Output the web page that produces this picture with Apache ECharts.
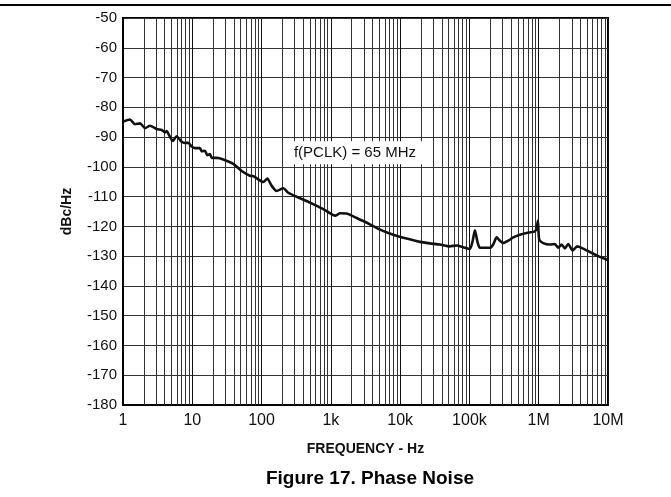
<!DOCTYPE html>
<html>
<head>
<meta charset="utf-8">
<title>Phase Noise</title>
<script src="https://cdn.jsdelivr.net/npm/echarts@6/dist/echarts.min.js"></script>
<style>
  html, body { margin: 0; padding: 0; background: #fff; }
  #main { width: 671px; height: 497px; }
</style>
</head>
<body>
<div id="main"></div>
<script type="text/javascript">
// frequency (Hz) and phase noise (dBc/Hz)
var freqHz = [1, 1.26, 1.49, 1.76, 2.08, 2.45, 3.06, 3.62, 4.04, 4.27,
  4.66, 5.21, 5.95, 7.03, 7.85, 8.76, 9.8, 10.9, 12.9, 13.7,
  15.2, 16.5, 18, 19.1, 22.5, 28, 39, 51.6, 68, 76,
  106, 121, 140, 165, 206, 243, 339, 500, 778, 1150,
  1360, 1690, 2360, 3660, 5120, 7950, 12400, 19300, 26900, 37500,
  52300, 65300, 81400, 101600, 111000, 120000, 130000, 142000, 198000, 220000,
  247000, 275000, 307000, 363000, 429000, 535000, 669000, 881000, 933000, 973000,
  1016000, 1161000, 1451000, 1713000, 1911000, 2139000, 2388000, 2666000, 3084000, 3594000,
  4160000, 5483000, 7228000, 9546000, 10000000];
var noiseDb = [-84.8, -84.1, -85.7, -85.4, -87, -86.2, -87.3, -87.6, -88.4, -88,
  -89.5, -91.3, -89.7, -91.6, -92, -91.9, -93.2, -93.7, -93.7, -94.8,
  -94.6, -96.1, -95.7, -97, -97, -97.5, -99, -101.4, -103, -103.1,
  -105.1, -103.9, -106.4, -108.1, -107.2, -108.7, -110.3, -112, -114.2, -116.4,
  -115.6, -115.7, -117.2, -119.3, -121.1, -122.8, -124.1, -125.2, -125.7, -126.1,
  -126.7, -126.4, -127, -127.6, -125, -121.3, -125, -127.2, -127.2, -126.1,
  -123.7, -124.8, -125.6, -124.8, -123.7, -122.8, -122.2, -121.7, -120.6, -118.1,
  -124.4, -125.6, -126.1, -125.9, -127.2, -126.1, -127.4, -125.9, -128.1, -126.7,
  -127.2, -128.6, -130, -131.1, -131.2];

var xTickLabels = {1: '1', 10: '10', 100: '100', 1000: '1k', 10000: '10k',
  100000: '100k', 1000000: '1M', 10000000: '10M'};

// minor log grid lines 2..9 in every decade
var minorLines = [];
for (var d = 1; d < 1e7; d *= 10) {
  for (var m = 2; m <= 9; m++) minorLines.push({ xAxis: m * d });
}

var chart = echarts.init(document.getElementById('main'));
var option = {
  animation: false,
  textStyle: { fontFamily: 'Liberation Sans, Arial, sans-serif' },
  graphic: [{
    type: 'line', shape: { x1: 0, y1: 5, x2: 671, y2: 5 },
    style: { stroke: '#000', lineWidth: 2 }
  }],
  title: {
    text: 'Figure 17. Phase Noise',
    left: 365, top: 464, textAlign: 'center',
    textStyle: { fontSize: 19, fontWeight: 'bold', color: '#000' }
  },
  grid: {
    left: 123, right: 63, top: 18, bottom: 92,
    show: true, borderColor: '#000', borderWidth: 2
  },
  xAxis: {
    type: 'log', logBase: 10, min: 1, max: 10000000,
    name: 'FREQUENCY - Hz', nameLocation: 'middle', nameGap: 37,
    nameTextStyle: { fontSize: 14, fontWeight: 'bold', color: '#111' },
    axisLine: { lineStyle: { color: '#000', width: 2 } },
    axisTick: { show: false },
    axisLabel: {
      fontSize: 16, color: '#111', margin: 8,
      formatter: function (v) { return xTickLabels[v] || ''; }
    },
    splitLine: { show: true, lineStyle: { color: '#111', width: 1 } }
  },
  yAxis: {
    type: 'value', min: -180, max: -50, interval: 10,
    name: 'dBc/Hz', nameLocation: 'middle', nameGap: 49, nameRotate: 90,
    nameTextStyle: { fontSize: 14, fontWeight: 'bold', color: '#111' },
    axisLine: { show: true, lineStyle: { color: '#000', width: 2 } },
    axisTick: { show: false },
    axisLabel: { fontSize: 15, color: '#111', margin: 6 },
    splitLine: { show: true, lineStyle: { color: '#333', width: 1.2 } }
  },
  series: [{
    type: 'line',
    data: freqHz.map(function (f, i) { return [f, noiseDb[i]]; }),
    showSymbol: false,
    smooth: 0.2,
    lineStyle: { color: '#111', width: 2.6 },
    markLine: {
      silent: true, symbol: 'none', animation: false,
      label: { show: false },
      lineStyle: { color: '#333', width: 1, type: 'solid' },
      data: minorLines
    },
    markPoint: {
      silent: true, symbol: 'rect', symbolSize: 0,
      data: [{ coord: [2230, -95.3] }],
      label: {
        show: true, position: 'inside',
        formatter: 'f(PCLK) = 65 MHz',
        fontSize: 15, color: '#111',
        backgroundColor: '#fff', padding: [4, 6]
      }
    },
    z: 5
  }]
};
chart.setOption(option);
</script>
</body>
</html>
